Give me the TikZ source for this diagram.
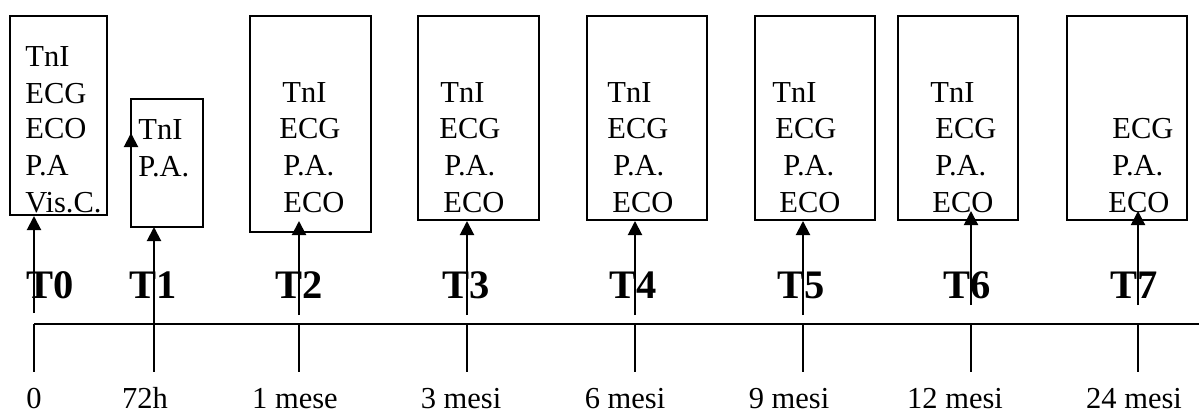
\documentclass[tikz,border=0pt]{standalone}
\usepackage{fontspec}
\setmainfont{Liberation Serif}
\usetikzlibrary{arrows.meta,fit}
\tikzset{
  exambox/.style={draw, line width=0.85pt, inner sep=0pt},
  exam/.style={anchor=base west, inner sep=0pt, font=\fontsize{15.25}{18}\selectfont},
  phase/.style={anchor=base west, inner sep=0pt, font=\fontsize{20.25}{24}\selectfont\bfseries},
  when/.style={anchor=base, inner sep=0pt, font=\fontsize{15.25}{18}\selectfont},
  visit/.style={line width=1pt, -{Triangle[length=7pt,width=7pt]}},
  axis/.style={line width=0.85pt},
}
\begin{document}
\begin{tikzpicture}[x=0.5pt,y=-0.5pt]
\useasboundingbox (0,0) rectangle (1199,412);

% exam boxes
\foreach \n/\l/\t/\r/\b in {0/10/16/107/215, 1/131/99/203/227, 2/250/16/371/232,
  3/418/16/539/220, 4/587/16/707/220, 5/755/16/875/220, 6/898/16/1018/220, 7/1067/16/1187/220}{
  \coordinate (nw\n) at (\l,\t);
  \coordinate (se\n) at (\r,\b);
  \node[exambox, fit=(nw\n)(se\n)] (box\n) {};
}

% exams listed in each box
\foreach \id/\x/\y/\s in {
  a0/25/66/TnI, b0/25/103/ECG, c0/25/138/ECO, d0/25/175/P.A, e0/25/212/Vis.C.,
  a1/138/139/TnI, b1/138/176/P.A.,
  a2/282/102/TnI, b2/279/138/ECG, c2/283/175/P.A., d2/283/212/ECO,
  a3/440/102/TnI, b3/439/138/ECG, c3/444/175/P.A., d3/443/212/ECO,
  a4/607/102/TnI, b4/607/138/ECG, c4/613/175/P.A., d4/612/212/ECO,
  a5/772/102/TnI, b5/775/138/ECG, c5/783/175/P.A., d5/779/212/ECO,
  a6/930/102/TnI, b6/935/138/ECG, c6/935/175/P.A., d6/932/212/ECO,
  b7/1112/138/ECG, c7/1112/175/P.A., d7/1108/212/ECO}{
  \node[exam] (ex\id) at (\x,\y) {\s};
}

% time axis
\coordinate (axstart) at (34,324);
\coordinate (axend) at (1199,324);
\draw[axis] (axstart) -- (axend);
\foreach \i/\x/\lx/\s in {0/34/34/0, 1/154/145/72h, 2/299/295/1 mese, 3/467/461/3 mesi,
  4/635/625/6 mesi, 5/803/789/9 mesi, 6/971/955/12 mesi, 7/1138/1134/24 mesi}{
  \coordinate (tick\i) at (\x,324);
  \coordinate (foot\i) at (\x,372);
  \draw[axis] (tick\i) -- (foot\i);
  \node[when] (lab\i) at (\lx,408) {\s};
}

% phase labels
\foreach \i/\x in {0/26, 1/129, 2/275, 3/442, 4/609, 5/777, 6/943, 7/1110}{
  \node[phase] (ph\i) at (\x,298) {T\i};
}

% visit arrows
\foreach \i/\x/\f/\e in {0/34/313/216, 2/299/315/221, 3/467/315/221, 4/635/315/221,
  5/803/315/221, 6/971/305/211, 7/1138/305/211}{
  \coordinate (from\i) at (\x,\f);
  \coordinate (to\i) at (\x,\e);
  \draw[visit] (from\i) -- (to\i);
}
\coordinate (to1) at (154,227);
\draw[visit] (tick1) -- (to1);
\coordinate (sidefrom1) at (131,228);
\coordinate (sideto1) at (131,133);
\draw[visit] (sidefrom1) -- (sideto1);
\end{tikzpicture}
\end{document}
